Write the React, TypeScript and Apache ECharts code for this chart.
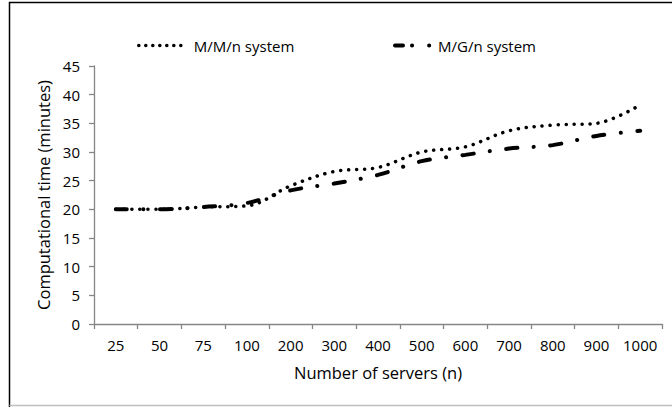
import React, { useEffect, useRef } from "react";
import * as echarts from "echarts";

const categories = ["25", "50", "75", "100", "200", "300", "400", "500", "600", "700", "800", "900", "1000"];
const mmnValues = [20.0, 20.0, 20.4, 20.6, 24.1, 26.6, 27.3, 30.0, 30.9, 33.7, 34.7, 35.0, 38.2];
const mgnValues = [20.0, 20.0, 20.4, 21.1, 23.3, 24.5, 26.0, 28.4, 29.5, 30.6, 31.2, 32.8, 33.7];
const seriesNames = ["M/M/n system", "M/G/n system"];
const xTitle = "Number of servers (n)";
const yTitle = "Computational time (minutes)";

const FONT = "Open Sans";

export default function App() {
  const ref = useRef<HTMLDivElement>(null);
  useEffect(() => {
    if (!ref.current) return;
    const chart = echarts.init(ref.current, undefined, { renderer: "svg" });
    const textStyle = { fontFamily: FONT, fontSize: 15, color: "#000" };
    const titleStyle = { fontFamily: FONT, fontSize: 16.5, color: "#000" };
    chart.setOption({
      animation: false,
      backgroundColor: "#fff",
      textStyle: { fontFamily: FONT },
      graphic: [
        {
          type: "polyline",
          shape: { points: [[9.5, 407], [9.5, 2.5], [680, 2.5]] },
          style: { stroke: "#000", lineWidth: 1.5, fill: null },
          silent: true,
        },
        {
          type: "line",
          shape: { x1: 9.5, y1: 405.5, x2: 680, y2: 405.5 },
          style: { stroke: "#bfbfbf", lineWidth: 1.5 },
          silent: true,
        },
      ],
      legend: [
        {
          left: 137,
          top: 38,
          padding: 0,
          data: [seriesNames[0]],
          itemWidth: 43,
          itemHeight: 14,
          itemStyle: { color: "rgba(0,0,0,0)", borderWidth: 0 },
          lineStyle: { color: "#000", width: 3.5, type: [0.1, 6.9], cap: "round" },
          textStyle: { ...textStyle, padding: [0, 0, 0, 7] },
        },
        {
          left: 393,
          top: 38,
          padding: 0,
          data: [seriesNames[1]],
          itemWidth: 40,
          itemHeight: 14,
          itemStyle: { color: "rgba(0,0,0,0)", borderWidth: 0 },
          lineStyle: { color: "#000", width: 4, type: [8, 9, 0.1, 17, 0.1, 30], cap: "round" },
          textStyle: { ...textStyle, padding: [0, 0, 0, -2] },
        },
      ],
      grid: { left: 94, right: 10, top: 66, bottom: 83, containLabel: false },
      xAxis: {
        type: "category",
        data: categories,
        boundaryGap: true,
        name: xTitle,
        nameLocation: "middle",
        nameGap: 40,
        nameTextStyle: titleStyle,
        axisLine: { lineStyle: { color: "#868686", width: 1.3 } },
        axisTick: { show: true, length: 5, interval: 0, lineStyle: { color: "#868686", width: 1.3 } },
        axisLabel: { ...textStyle, margin: 13, interval: 0 },
        splitLine: { show: false },
      },
      yAxis: {
        type: "value",
        min: 0,
        max: 45,
        interval: 5,
        name: yTitle,
        nameLocation: "middle",
        nameGap: 39,
        nameTextStyle: titleStyle,
        axisLine: { show: true, lineStyle: { color: "#868686", width: 1.3 } },
        axisTick: { show: true, length: 5, lineStyle: { color: "#868686", width: 1.3 } },
        axisLabel: { ...textStyle, margin: 14 },
        splitLine: { show: false },
      },
      series: [
        {
          name: seriesNames[0],
          type: "line",
          data: mmnValues,
          smooth: 0.35,
          symbol: "none",
          lineStyle: { color: "#000", width: 3.5, type: [0.1, 7.9], cap: "round" },
          itemStyle: { color: "#000" },
        },
        {
          name: seriesNames[1],
          type: "line",
          data: mgnValues,
          smooth: 0.35,
          symbol: "none",
          lineStyle: { color: "#000", width: 4, type: [11, 16.5, 0.1, 16.5], cap: "round" },
          itemStyle: { color: "#000" },
        },
      ],
    });
    return () => chart.dispose();
  }, []);
  return (
    <div
      ref={ref}
      style={{ position: "fixed", left: 0, top: 0, width: 672, height: 407, background: "#fff" }}
    />
  );
}
